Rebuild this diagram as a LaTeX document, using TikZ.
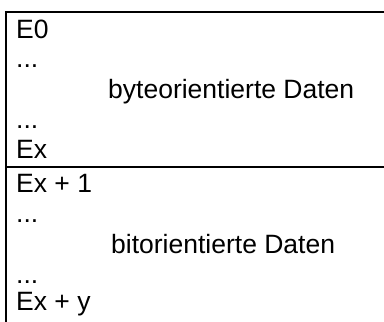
\documentclass[tikz,border=0pt]{standalone}
\usepackage{fontspec}
\setmainfont{Liberation Sans}
\begin{document}
\begin{tikzpicture}[x=1pt,y=-1pt,
  lbl/.style={anchor=base west,inner sep=0pt,font=\fontsize{26.5}{30}\selectfont},
  rule/.style={draw=black,line cap=butt}]
  \useasboundingbox (0,0) rectangle (384,322);
  % frame: top edge, left edge and the divider between the two areas
  \draw[rule,line width=2.6pt] (5,12) -- (384,12);
  \draw[rule,line width=2pt] (6,11) -- (6,322);
  \draw[rule,line width=1.6pt] (6,167) -- (384,167);
  % byte-oriented area
  \node[lbl] (e0)    at (16,38)  {E0};
  \node[lbl] (d1)    at (16,67)  {...};
  \node[lbl] (byte)  at (108,98) {byteorientierte Daten};
  \node[lbl] (d2)    at (16,128) {...};
  \node[lbl] (ex)    at (16,158) {Ex};
  % bit-oriented area
  \node[lbl] (ex1)   at (16,192) {Ex + 1};
  \node[lbl] (d3)    at (16,222) {...};
  \node[lbl] (bit)   at (111,253) {bitorientierte Daten};
  \node[lbl] (d4)    at (16,283) {...};
  \node[lbl] (exy)   at (16,310) {Ex + y};
\end{tikzpicture}
\end{document}
